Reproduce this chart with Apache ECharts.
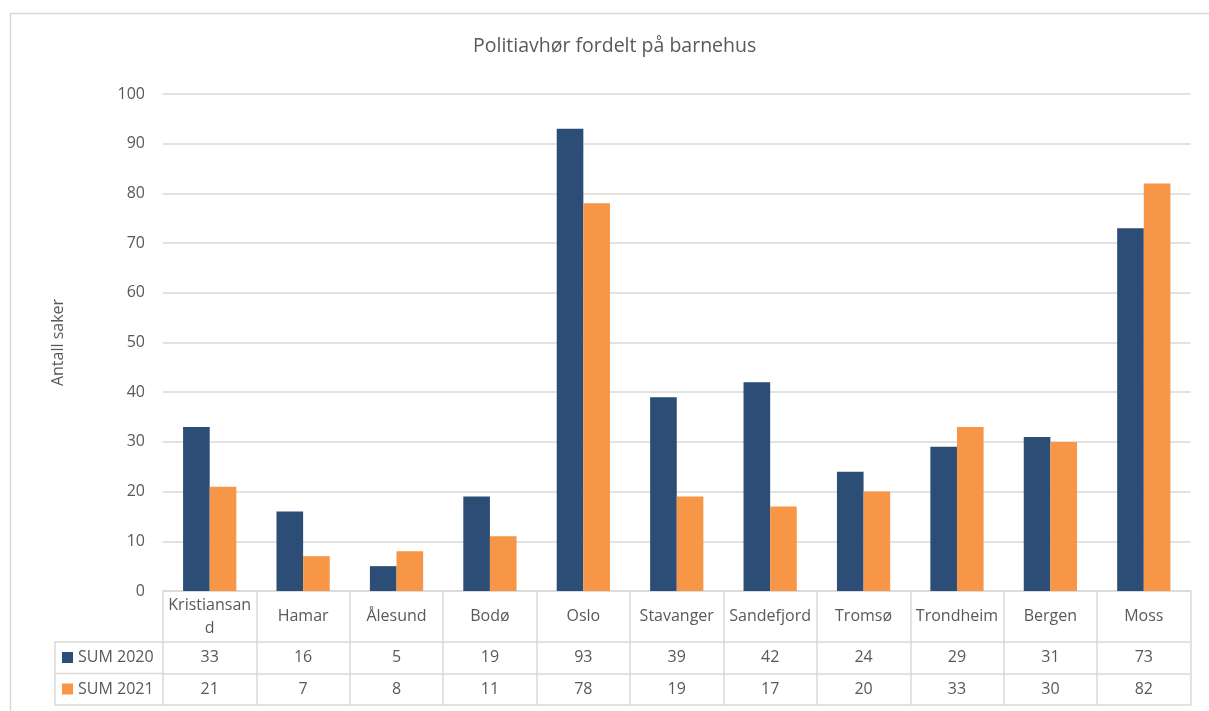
<!DOCTYPE html>
<html lang="no">
<head>
    <meta charset="UTF-8">
    <title>Politiavhør fordelt på barnehus</title>
    <style>
        html, body { margin: 0; background: #fff; }
        #chart { width: 1209px; height: 711px; }
    </style>
</head>
<body>
    <div id="chart"></div>
    <script src="https://cdn.jsdelivr.net/npm/echarts@6/dist/echarts.min.js"></script>
    <script>
        // data
        var categories = ['Kristiansand', 'Hamar', 'Ålesund', 'Bodø', 'Oslo', 'Stavanger', 'Sandefjord', 'Tromsø', 'Trondheim', 'Bergen', 'Moss'];
        var sum2020 = [33, 16, 5, 19, 93, 39, 42, 24, 29, 31, 73];
        var sum2021 = [21, 7, 8, 11, 78, 19, 17, 20, 33, 30, 82];
        var seriesNames = ['SUM 2020', 'SUM 2021'];
        var yMin = 0, yMax = 100, yStep = 10;

        // layout
        var W = 1209, H = 711;
        var plotLeft = 163, plotRight = 1190.5, plotTop = 94, plotBottom = 591;
        var tableLeft = 55;
        var catRowH = 51, rowH = 31.5;
        var lineColor = '#D9D9D9';
        var textColor = '#595959';
        var font = '"Open Sans", "Noto Sans", sans-serif';

        var myChart = echarts.init(document.getElementById('chart'));

        var row1Y = plotBottom + catRowH;
        var row2Y = row1Y + rowH;
        var row3Y = row2Y + rowH;

        // row axis: a category axis that only draws a table line + the row values
        function rowAxis(offset, values) {
            return {
                type: 'category',
                data: categories,
                position: 'bottom',
                offset: offset,
                axisLine: { show: true, lineStyle: { color: lineColor, width: 1.5 } },
                axisTick: { show: false },
                splitLine: { show: false },
                axisLabel: values ? {
                    interval: 0,
                    margin: rowH / 2,
                    verticalAlign: 'middle',
                    color: textColor,
                    fontSize: 16,
                    fontFamily: font,
                    formatter: function(v, i) { return String(values[i]); }
                } : { show: false }
            };
        }

        var option = {
            animation: false,
            color: ['#2C4D75', '#F79646'],
            title: {
                text: 'Politiavhør fordelt på barnehus',
                left: 473,
                top: 36,
                padding: 0,
                textStyle: { color: textColor, fontSize: 19.5, fontWeight: 'normal', fontFamily: font }
            },
            legend: {
                data: seriesNames,
                orient: 'vertical',
                left: 62,
                top: row1Y + 5.5,
                padding: 0,
                icon: 'rect',
                itemWidth: 11,
                itemHeight: 11,
                itemGap: 11.5,
                selectedMode: false,
                textStyle: { color: textColor, fontSize: 16, fontFamily: font, lineHeight: 20 }
            },
            grid: {
                left: plotLeft,
                right: W - plotRight,
                top: plotTop,
                bottom: H - plotBottom,
                outerBoundsMode: 'none'
            },
            xAxis: [{
                type: 'category',
                data: categories,
                axisLine: { lineStyle: { color: lineColor, width: 1.5 } },
                axisTick: {
                    show: true,
                    interval: 0,
                    length: catRowH + 2 * rowH,
                    lineStyle: { color: lineColor, width: 1.5 }
                },
                axisLabel: {
                    interval: 0,
                    margin: catRowH / 2,
                    verticalAlign: 'middle',
                    color: textColor,
                    fontSize: 16,
                    fontFamily: font,
                    lineHeight: 23,
                    width: 87,
                    overflow: 'breakAll'
                }
            },
                rowAxis(catRowH, sum2020),
                rowAxis(catRowH + rowH, sum2021),
                rowAxis(catRowH + 2 * rowH, null)
            ],
            yAxis: {
                type: 'value',
                min: yMin,
                max: yMax,
                interval: yStep,
                name: 'Antall saker',
                nameLocation: 'middle',
                nameGap: 97,
                nameTextStyle: { color: textColor, fontSize: 16, fontFamily: font },
                axisLine: { show: false },
                axisTick: { show: false },
                axisLabel: { color: textColor, fontSize: 16, fontFamily: font, margin: 18 },
                splitLine: { lineStyle: { color: lineColor, width: 1.5 } }
            },
            series: [{
                name: seriesNames[0],
                type: 'bar',
                data: sum2020,
                barGap: '0%',
                barCategoryGap: '43%'
            }, {
                name: seriesNames[1],
                type: 'bar',
                data: sum2021
            }],
            graphic: [
                // outer chart border
                { type: 'rect', shape: { x: 10.5, y: 13.5, width: W + 20, height: H + 20 },
                  style: { fill: null, stroke: lineColor, lineWidth: 1.5 }, silent: true },
                // legend column of the data table
                { type: 'polyline', shape: { points: [[plotLeft, row1Y], [tableLeft, row1Y], [tableLeft, row3Y], [plotLeft, row3Y]] },
                  style: { fill: null, stroke: lineColor, lineWidth: 1.5 }, silent: true },
                { type: 'line', shape: { x1: tableLeft, y1: row2Y, x2: plotLeft, y2: row2Y },
                  style: { stroke: lineColor, lineWidth: 1.5 }, silent: true }
            ]
        };

        myChart.setOption(option);
    </script>
</body>
</html>
